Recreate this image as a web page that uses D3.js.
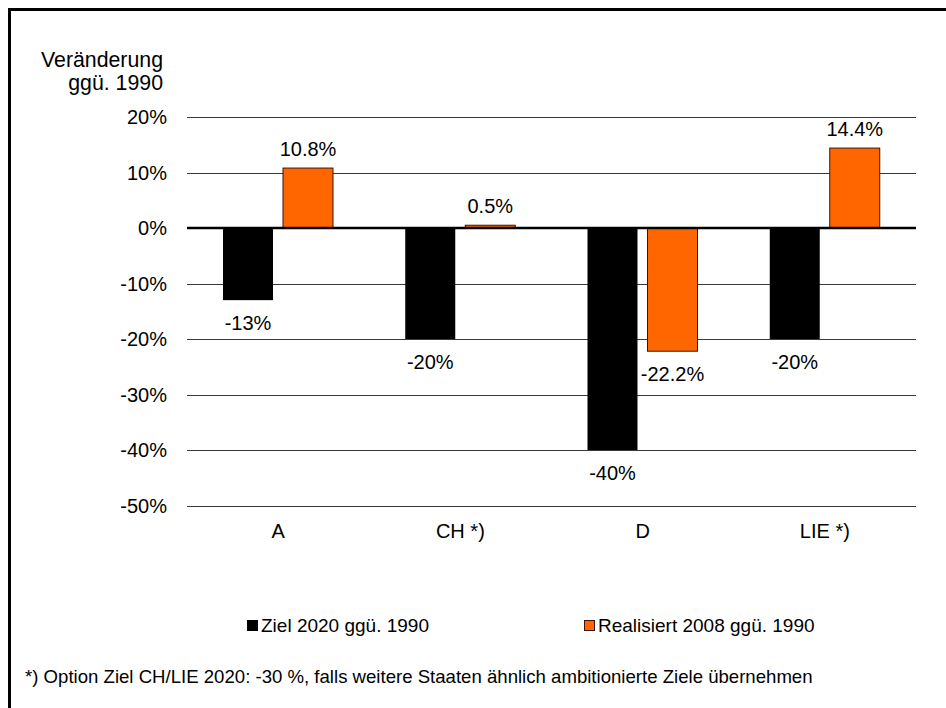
<!DOCTYPE html>
<html>
<head>
<meta charset="utf-8">
<script src="https://cdn.jsdelivr.net/npm/d3@7"></script>
<style>
  body { margin: 0; background: #fff; }
  svg text { font-family: "Liberation Sans", Arial, sans-serif; fill: #000; }
</style>
</head>
<body>
<div id="chart"></div>
<script>
const categories = ["A", "CH *)", "D", "LIE *)"];
const seriesNames = ["Ziel 2020 ggü. 1990", "Realisiert 2008 ggü. 1990"];
const ziel2020 = [-13, -20, -40, -20];
const realisiert2008 = [10.8, 0.5, -22.2, 14.4];
const valueLabels = [
    ["-13%", "-20%", "-40%", "-20%"],
    ["10.8%", "0.5%", "-22.2%", "14.4%"]
];
const yTicks = [20, 10, 0, -10, -20, -30, -40, -50];
const footnote = "*) Option Ziel CH/LIE 2020: -30 %, falls weitere Staaten ähnlich ambitionierte Ziele übernehmen";

const W = 946, H = 708;
const colors = ["#000000", "#ff6600"];
const plot = {left: 187, right: 916, top: 117, bottom: 505.5};

const svg = d3.select("#chart").append("svg")
    .attr("width", W)
    .attr("height", H);

svg.append("rect").attr("width", W).attr("height", H).attr("fill", "#fff");

// outer frame (only top and left visible)
svg.append("rect")
    .attr("x", 9.5).attr("y", 9.5)
    .attr("width", W + 20).attr("height", H + 20)
    .attr("fill", "none")
    .attr("stroke", "#000")
    .attr("stroke-width", 3);

const yScale = d3.scaleLinear().domain([-50, 20]).range([plot.bottom, plot.top]);
const x0 = d3.scaleBand().domain(categories).range([plot.left, plot.right]);
const x1 = d3.scaleBand().domain([0, 1]).range([36, 146]).paddingInner(10 / 60);

// gridlines
svg.append("g").selectAll("line")
    .data(yTicks.filter(t => t !== 0))
    .join("line")
    .attr("x1", plot.left).attr("x2", plot.right)
    .attr("y1", d => Math.round(yScale(d)) + 0.5)
    .attr("y2", d => Math.round(yScale(d)) + 0.5)
    .attr("stroke", "#3a3a3a")
    .attr("stroke-width", 1);

// tick labels
svg.append("g").selectAll("text")
    .data(yTicks)
    .join("text")
    .attr("x", 167)
    .attr("y", d => yScale(d) + 7)
    .attr("text-anchor", "end")
    .style("font-size", "20px")
    .text(d => d + "%");

// axis title
svg.append("text").attr("x", 163).attr("y", 67).attr("text-anchor", "end")
    .style("font-size", "21.3px").text("Veränderung");
svg.append("text").attr("x", 163).attr("y", 90).attr("text-anchor", "end")
    .style("font-size", "21.3px").text("ggü. 1990");

// bars
const data = [ziel2020, realisiert2008];
const barG = svg.append("g");
data.forEach((vals, s) => {
    barG.selectAll(".bar" + s)
        .data(vals)
        .join("rect")
        .attr("class", "bar" + s)
        .attr("x", (d, i) => x0(categories[i]) + x1(s))
        .attr("width", x1.bandwidth())
        .attr("y", d => yScale(Math.max(0, d)))
        .attr("height", d => Math.abs(yScale(d) - yScale(0)))
        .attr("fill", colors[s])
        .attr("stroke", s === 1 ? "#3b1500" : "none")
        .attr("stroke-width", 1);

    barG.selectAll(".lab" + s)
        .data(vals)
        .join("text")
        .attr("class", "lab" + s)
        .attr("x", (d, i) => x0(categories[i]) + x1(s) + x1.bandwidth() / 2)
        .attr("y", d => d >= 0 ? yScale(d) - 12 : yScale(d) + 30)
        .attr("text-anchor", "middle")
        .style("font-size", "20px")
        .text((d, i) => valueLabels[s][i]);
});

// zero line
svg.append("line")
    .attr("x1", plot.left).attr("x2", plot.right)
    .attr("y1", yScale(0)).attr("y2", yScale(0))
    .attr("stroke", "#000").attr("stroke-width", 2.5);

// category labels
svg.append("g").selectAll("text")
    .data(categories)
    .join("text")
    .attr("x", d => x0(d) + x0.bandwidth() / 2)
    .attr("y", 538)
    .attr("text-anchor", "middle")
    .style("font-size", "20px")
    .text(d => d);

// legend
const legendX = [247, 584];
const legend = svg.append("g");
seriesNames.forEach((name, s) => {
    legend.append("rect")
        .attr("x", legendX[s] + 0.5).attr("y", 620.5)
        .attr("width", 10).attr("height", 10)
        .attr("fill", colors[s])
        .attr("stroke", s === 1 ? "#3b1500" : "#000");
    legend.append("text")
        .attr("x", legendX[s] + 14).attr("y", 632)
        .style("font-size", "19px")
        .text(name);
});

// footnote
svg.append("text")
    .attr("x", 25).attr("y", 683)
    .style("font-size", "18.6px")
    .text(footnote);
</script>
</body>
</html>
